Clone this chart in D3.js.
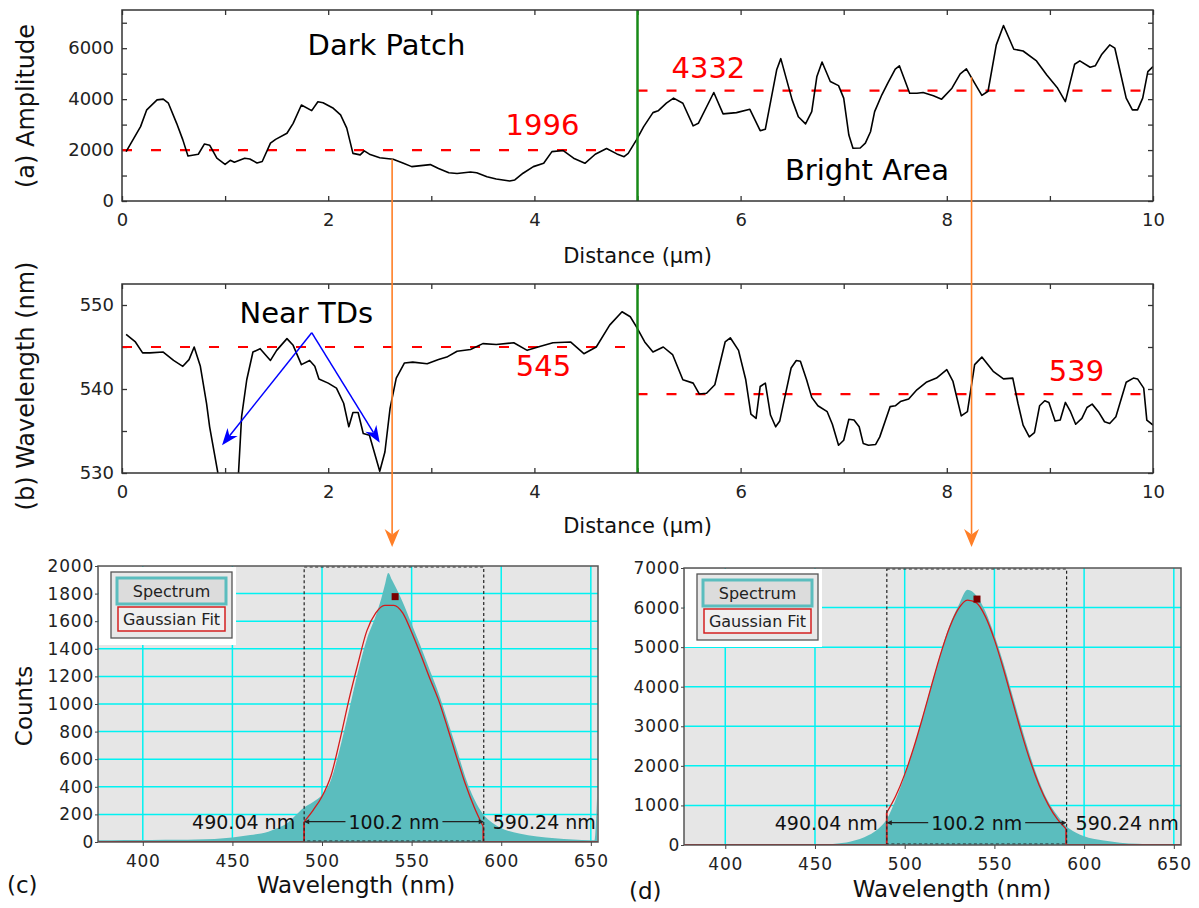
<!DOCTYPE html>
<html>
<head>
<meta charset="utf-8">
<script src="https://cdn.jsdelivr.net/npm/d3@7"></script>
<style>
  body { margin: 0; background: #fff; }
  svg { display: block; }
  text { font-family: "DejaVu Sans", sans-serif; }
</style>
</head>
<body>
<div id="chart"></div>
<script>
// ---- profile (a): amplitude along the line scan
const distA = [0.04,0.18,0.24,0.34,0.40,0.45,0.53,0.59,0.64,0.74,0.80,0.85,0.92,1.00,1.05,1.09,1.19,1.24,1.31,1.36,
  1.44,1.49,1.60,1.66,1.74,1.84,1.90,1.95,2.05,2.12,2.18,2.24,2.31,2.35,2.40,2.50,2.63,2.73,2.81,2.99,
  3.07,3.17,3.25,3.38,3.44,3.54,3.63,3.76,3.81,3.89,3.99,4.09,4.17,4.28,4.38,4.49,4.59,4.70,4.80,4.87,
  4.91,4.99,5.06,5.15,5.20,5.28,5.35,5.44,5.54,5.59,5.74,5.83,5.96,6.09,6.19,6.24,6.35,6.39,6.50,6.56,
  6.63,6.69,6.74,6.79,6.87,6.95,7.00,7.05,7.09,7.16,7.21,7.26,7.30,7.37,7.43,7.50,7.54,7.64,7.71,7.77,
  7.87,7.95,8.05,8.13,8.19,8.27,8.34,8.40,8.48,8.55,8.65,8.74,8.87,8.97,9.07,9.15,9.24,9.29,9.39,9.44,
  9.50,9.58,9.63,9.74,9.80,9.85,9.90,9.95,10.0];
const ampA = [1940,2920,3580,3970,4000,3840,3050,2400,1770,1835,2240,2190,1680,1440,1600,1520,1680,1650,1490,1550,
  2270,2420,2660,3050,3770,3550,3900,3860,3640,3380,2860,1870,1810,1970,1840,1700,1640,1480,1350,1430,
  1280,1110,1080,1140,1110,955,865,786,825,1090,1350,1480,1940,1980,1680,1480,1835,2060,1850,1740,
  1870,2400,2920,3470,3540,3840,4040,3840,2950,3050,4260,3420,3470,3600,2760,2820,5150,5590,3970,3310,
  3030,3510,4890,5460,4690,4530,4040,2590,2070,2080,2270,2720,3510,4170,4650,5180,5310,4230,4230,4260,
  4130,4000,4430,4990,5190,4630,4150,4310,6130,6890,5960,5890,5500,4950,4460,3900,5370,5500,5250,5310,
  5740,6130,6000,4040,3580,3580,4040,5080,5280];

// ---- profile (b): peak wavelength along the line scan
const distB = [0.04,0.13,0.20,0.27,0.40,0.50,0.59,0.65,0.70,0.76,0.82,0.85,0.93,1.00,1.06,1.13,1.16,1.21,1.27,1.34,
  1.44,1.50,1.60,1.66,1.74,1.82,1.87,1.91,2.00,2.08,2.15,2.20,2.24,2.29,2.34,2.40,2.50,2.55,2.60,2.66,
  2.74,2.82,2.96,3.07,3.15,3.25,3.38,3.50,3.63,3.80,3.93,4.06,4.18,4.35,4.48,4.60,4.73,4.85,4.93,4.99,
  5.07,5.15,5.25,5.34,5.44,5.54,5.60,5.67,5.75,5.85,5.90,5.98,6.05,6.10,6.15,6.19,6.24,6.29,6.34,6.38,
  6.43,6.49,6.54,6.58,6.64,6.69,6.75,6.84,6.89,6.95,7.00,7.05,7.10,7.15,7.19,7.24,7.31,7.35,7.45,7.50,
  7.55,7.63,7.71,7.80,7.90,8.00,8.06,8.14,8.20,8.27,8.34,8.45,8.55,8.64,8.69,8.74,8.80,8.85,8.90,8.95,
  8.99,9.05,9.10,9.15,9.20,9.25,9.31,9.36,9.41,9.47,9.53,9.58,9.64,9.74,9.81,9.85,9.91,9.94,10.0];
const wlB = [546.5,545.6,544.3,544.3,544.4,543.4,542.7,543.5,545.0,542.7,538.3,535.5,530.0,526.5,526.0,530.0,536.7,541.1,544.4,544.8,
  543.4,544.6,546.0,545.2,542.9,543.4,542.7,541.2,540.7,540.1,538.3,535.5,537.2,537.2,534.7,534.5,530.2,532.5,537.7,541.3,
  543.1,543.2,543.0,543.5,543.8,544.5,544.7,545.4,545.3,545.5,544.6,545.1,545.5,545.6,544.2,545.0,547.6,549.2,548.6,547.4,
  545.6,544.4,545.0,544.1,541.1,540.7,539.4,539.5,540.5,545.6,546.1,544.6,541.1,537.0,536.5,540.3,540.7,536.9,535.5,536.2,
  539.1,542.5,543.4,543.3,541.1,539.0,538.0,537.3,535.8,533.3,533.9,536.4,536.3,535.5,533.5,533.3,533.4,534.3,537.9,538.0,
  538.5,538.8,539.9,540.8,541.3,542.3,540.9,536.8,537.3,542.9,543.8,542.1,541.2,541.3,538.3,535.7,534.3,534.8,538.0,538.6,
  538.4,536.2,536.3,538.4,537.3,535.8,536.5,537.8,538.2,537.3,536.1,535.9,536.7,540.8,541.3,541.2,540.1,536.3,535.7];

// region means (left = dark patch, right = bright area)
const meanAmp = [1996, 4332];
const meanWl = [545, 539.4];
const meanWlLabels = ["545", "539"];
const regionX = [[0, 5], [5, 10]];
const boundaryX = 5;

// arrows: blue "Near TDs" arrows and the orange links to the spectra
const tdApex = [1.84, 546.7];
const tdTips = [[0.97, 533.3], [2.50, 533.6]];
const linkX = [2.62, 8.24];
const linkAmp = [1640, 4860];

// ---- spectrum (c): dark patch point
const specCx = [375,390,405,420,430,440,450,460,470,475,480,485,490,495,500,505,510,515,520,525,
  530,533,535,537,539,541,545,550,555,560,565,570,575,580,585,590,595,600,610,620,630,640,650,652,653.5];
const specCy = [12,14,15,16,18,22,32,50,75,100,130,190,250,290,340,450,680,950,1230,1470,
  1640,1760,1860,1950,1900,1850,1740,1580,1420,1250,1080,880,680,470,310,200,140,100,62,40,28,18,12,12,330];
const fitCx = [490,495,500,505,510,515,520,525,530,535,540,545,550,555,560,565,570,575,580,585,590];
const fitCy = [147,230,330,480,740,1030,1290,1530,1660,1715,1715,1660,1520,1360,1190,1030,830,620,420,250,111];
const peakC = [540.8, 1778];
const rangeC = [490.04, 590.24];
const rangeCy = 147;

// ---- spectrum (d): bright area point
const specDx = [455,460,465,470,475,480,485,490,495,500,505,510,515,520,525,530,535,540,545,550,
  555,560,565,570,575,580,585,590,595,600,610,620,630,640,650,654];
const specDy = [0,25,50,90,150,250,400,650,1150,1750,2450,3250,4050,4850,5550,6050,6450,6300,5900,5300,
  4600,3800,3000,2250,1600,1100,750,480,320,220,120,60,30,12,5,3];
const fitDx = [490,495,500,505,510,515,520,525,530,535,540,545,550,555,560,565,570,575,580,585,590];
const fitDy = [818,1236,1785,2457,3224,4038,4823,5494,5972,6190,6120,5772,5190,4455,3646,2847,2118,1505,1020,659,406];
const peakD = [540.3, 6215];
const rangeD = [490.04, 590.24];
const rangeDy = 564;

const W = 1199, H = 908;
const svg = d3.select("#chart").append("svg")
  .attr("width", W).attr("height", H)
  .attr("viewBox", `0 0 ${W} ${H}`);
svg.append("rect").attr("width", W).attr("height", H).attr("fill", "#fff");

const defs = svg.append("defs");
const FONT = '"DejaVu Sans", sans-serif';

// arrow with a notched filled head
const arrow = (g, x1, y1, x2, y2, color, sw, hl, hw) => {
  const a = Math.atan2(y2 - y1, x2 - x1);
  const cx = Math.cos(a), sy = Math.sin(a);
  const bx = x2 - hl * cx, by = y2 - hl * sy;
  const nx = x2 - hl * 0.7 * cx, ny = y2 - hl * 0.7 * sy;
  const px = -sy * hw / 2, py = cx * hw / 2;
  g.append("line")
    .attr("x1", x1).attr("y1", y1).attr("x2", nx).attr("y2", ny)
    .attr("stroke", color).attr("stroke-width", sw);
  g.append("path")
    .attr("d", `M${x2},${y2}L${bx + px},${by + py}L${nx},${ny}L${bx - px},${by - py}Z`)
    .attr("fill", color);
};

// ================= top profiles =================
const xProf = d3.scaleLinear().domain([0, 10]).range([122, 1153]);
const yAmp = d3.scaleLinear().domain([0, 7500]).range([201, 10]);
const yWl = d3.scaleLinear().domain([530, 552.5]).range([473, 284]);

const drawProfile = (cfg) => {
  const y = cfg.y;
  const [bottom, top] = y.range();
  const g = svg.append("g");

  defs.append("clipPath").attr("id", cfg.id)
    .append("rect").attr("x", xProf(0)).attr("y", top)
    .attr("width", xProf(10) - xProf(0)).attr("height", bottom - top);

  const styleAxis = (ax) => {
    ax.select(".domain").remove();
    ax.selectAll(".tick line").attr("stroke", "#333").attr("stroke-width", 1.3);
    ax.selectAll("text").attr("font-family", FONT).attr("font-size", 18).attr("fill", "#222");
  };

  const xt = d3.range(0, 11, 1);
  g.append("g").attr("transform", `translate(0,${bottom})`)
    .call(d3.axisBottom(xProf).tickValues(xt).tickSize(-5).tickPadding(12)
      .tickFormat(d => d % 2 === 0 ? d : ""))
    .call(styleAxis);
  g.append("g").attr("transform", `translate(0,${top})`)
    .call(d3.axisTop(xProf).tickValues(xt).tickSize(-5).tickFormat(""))
    .call(styleAxis);
  g.append("g").attr("transform", `translate(${xProf(0)},0)`)
    .call(d3.axisLeft(y).tickValues(cfg.yTicks).tickSize(-5).tickPadding(8)
      .tickFormat(d => d % cfg.labelStep === 0 ? d : ""))
    .call(styleAxis);
  g.append("g").attr("transform", `translate(${xProf(10)},0)`)
    .call(d3.axisRight(y).tickValues(cfg.yTicks).tickSize(-5).tickFormat(""))
    .call(styleAxis);

  // region means
  regionX.forEach((r, i) => {
    g.append("line")
      .attr("x1", xProf(r[0])).attr("x2", xProf(r[1]))
      .attr("y1", y(cfg.means[i])).attr("y2", y(cfg.means[i]))
      .attr("stroke", "#ff0000").attr("stroke-width", 2.2)
      .attr("stroke-dasharray", "10,19");
  });

  // profile
  const line = d3.line().x(d => xProf(d[0])).y(d => y(d[1]));
  g.append("path")
    .datum(d3.zip(cfg.xs, cfg.ys))
    .attr("clip-path", `url(#${cfg.id})`)
    .attr("d", line)
    .attr("fill", "none").attr("stroke", "#000").attr("stroke-width", 1.6)
    .attr("stroke-linejoin", "round");

  // boundary between regions
  g.append("line")
    .attr("x1", xProf(boundaryX)).attr("x2", xProf(boundaryX))
    .attr("y1", top).attr("y2", bottom)
    .attr("stroke", "#178a17").attr("stroke-width", 2.5);

  // frame
  g.append("rect")
    .attr("x", xProf(0)).attr("y", top)
    .attr("width", xProf(10) - xProf(0)).attr("height", bottom - top)
    .attr("fill", "none").attr("stroke", "#333").attr("stroke-width", 1.5);

  g.append("text")
    .attr("x", (xProf(0) + xProf(10)) / 2).attr("y", cfg.xTitleY)
    .attr("text-anchor", "middle").attr("font-size", 21).attr("fill", "#111")
    .text("Distance (µm)");
  g.append("text")
    .attr("transform", `translate(34,${cfg.titleY}) rotate(-90)`)
    .attr("text-anchor", "middle").attr("font-size", 24).attr("fill", "#111")
    .text(cfg.title);

  cfg.notes.forEach(n => {
    g.append("text")
      .attr("x", xProf(n[0])).attr("y", y(n[1]))
      .attr("font-size", 29).attr("fill", n[3])
      .text(n[2]);
  });
  return g;
};

drawProfile({
  id: "clipA", y: yAmp, yTicks: d3.range(0, 7001, 1000), labelStep: 2000,
  xs: distA, ys: ampA, means: meanAmp,
  title: "(a) Amplitude", titleY: 106, xTitleY: 263,
  notes: [[1.80, 5738, "Dark Patch", "#000"], [6.43, 825, "Bright Area", "#000"],
          [3.72, 2590, String(meanAmp[0]), "#ff0000"], [5.33, 4834, String(meanAmp[1]), "#ff0000"]]
});

const gB = drawProfile({
  id: "clipB", y: yWl, yTicks: [530, 535, 540, 545, 550], labelStep: 10,
  xs: distB, ys: wlB, means: meanWl,
  title: "(b) Wavelength (nm)", titleY: 386, xTitleY: 533,
  notes: [[1.14, 547.86, "Near TDs", "#000"],
          [3.82, 541.55, meanWlLabels[0], "#ff0000"], [8.99, 540.95, meanWlLabels[1], "#ff0000"]]
});

// blue arrows towards threading dislocations
tdTips.forEach(t => {
  arrow(gB, xProf(tdApex[0]), yWl(tdApex[1]), xProf(t[0]), yWl(t[1]), "#0000ff", 1.5, 17, 13);
});

// orange links from the profile to the spectra
const linkEnd = 547;
linkX.forEach((lx, i) => {
  arrow(svg, xProf(lx), yAmp(linkAmp[i]), xProf(lx), linkEnd, "#ff7f27", 1.6, 18, 15);
});

// ================= spectra =================
const drawSpectrum = (cfg) => {
  const x = d3.scaleLinear().domain(cfg.xDom).range(cfg.xr);
  const y = d3.scaleLinear().domain([0, cfg.yMax]).range(cfg.yr);
  const [x0, x1] = cfg.xr, [y0, y1] = cfg.yr;
  const g = svg.append("g");

  defs.append("clipPath").attr("id", cfg.id)
    .append("rect").attr("x", x0).attr("y", y1).attr("width", x1 - x0).attr("height", y0 - y1);

  g.append("rect").attr("x", x0).attr("y", y1).attr("width", x1 - x0).attr("height", y0 - y1)
    .attr("fill", "#e6e6e6");

  const xt = [400, 450, 500, 550, 600, 650];
  const yt = d3.range(0, cfg.yMax + 1, cfg.yStep);
  g.append("g").selectAll("line").data(xt).join("line")
    .attr("x1", d => x(d)).attr("x2", d => x(d)).attr("y1", y1).attr("y2", y0)
    .attr("stroke", "#00f2f2").attr("stroke-width", 1.5);
  g.append("g").selectAll("line").data(yt.slice(1, -1)).join("line")
    .attr("x1", x0).attr("x2", x1).attr("y1", d => y(d)).attr("y2", d => y(d))
    .attr("stroke", "#00f2f2").attr("stroke-width", 1.5);

  const body = g.append("g").attr("clip-path", `url(#${cfg.id})`);
  const area = d3.area().x(d => x(d[0])).y0(y(0)).y1(d => y(d[1])).curve(d3.curveMonotoneX);
  body.append("path").datum(d3.zip(cfg.sx, cfg.sy))
    .attr("d", area).attr("fill", "#5bbdbe");

  // fit: zero outside the fit range, gaussian inside
  const lin = d3.line().x(d => x(d[0])).y(d => y(d[1]));
  const fitPts = d3.zip(cfg.fx, cfg.fy);
  const red = "#d41a1a";
  body.append("path").datum([[cfg.xDom[0], 0], [cfg.fx[0], 0], fitPts[0]])
    .attr("d", lin).attr("fill", "none").attr("stroke", red).attr("stroke-width", 1.8);
  body.append("path").datum([fitPts[fitPts.length - 1], [cfg.fx[cfg.fx.length - 1], 0], [cfg.xDom[1], 0]])
    .attr("d", lin).attr("fill", "none").attr("stroke", red).attr("stroke-width", 1.8);
  body.append("path").datum(fitPts)
    .attr("d", lin.curve(d3.curveMonotoneX)).attr("fill", "none")
    .attr("stroke", red).attr("stroke-width", 1.3);

  // fit range box
  body.append("rect")
    .attr("x", x(cfg.range[0])).attr("y", y1 + 1)
    .attr("width", x(cfg.range[1]) - x(cfg.range[0])).attr("height", y0 - y1 - 2)
    .attr("fill", "none").attr("stroke", "#222").attr("stroke-width", 1.2)
    .attr("stroke-dasharray", "3,2.5");

  // range annotation
  const ay = y(cfg.rangeY);
  const xa = x(cfg.range[0]), xb = x(cfg.range[1]);
  const ann = g.append("g").attr("font-size", 19).attr("fill", "#111");
  ann.append("text").attr("x", xa - 9).attr("y", ay + 7).attr("text-anchor", "end")
    .text(cfg.range[0].toFixed(2) + " nm");
  ann.append("text").attr("x", xb + 9).attr("y", ay + 7).attr("text-anchor", "start")
    .text(cfg.range[1].toFixed(2) + " nm");
  const mid = ann.append("text").attr("x", (xa + xb) / 2).attr("y", ay + 7).attr("text-anchor", "middle")
    .text((cfg.range[1] - cfg.range[0]).toFixed(1) + " nm");
  const tw = mid.node().getComputedTextLength();
  [[xa + 1, (xa + xb) / 2 - tw / 2 - 3, xa], [(xa + xb) / 2 + tw / 2 + 3, xb - 1, xb]].forEach(s => {
    ann.append("line").attr("x1", s[0]).attr("x2", s[1]).attr("y1", ay).attr("y2", ay)
      .attr("stroke", "#222").attr("stroke-width", 1.2);
    const dir = s[2] === xa ? 1 : -1;
    ann.append("path")
      .attr("d", `M${s[2]},${ay}L${s[2] + dir * 5},${ay - 2.5}L${s[2] + dir * 5},${ay + 2.5}Z`)
      .attr("fill", "#222");
  });

  // peak marker
  g.append("rect")
    .attr("x", x(cfg.peak[0]) - 3.5).attr("y", y(cfg.peak[1]) - 3.5)
    .attr("width", 7).attr("height", 7).attr("fill", "#7a0000");

  // legend
  const lg = g.append("g").attr("transform", `translate(${x0},${y1})`);
  lg.append("rect").attr("x", 1).attr("y", 1).attr("width", 137).attr("height", 78).attr("fill", "#fff");
  lg.append("rect").attr("x", 13).attr("y", 6).attr("width", 121).attr("height", 66)
    .attr("fill", "#e8e8e8").attr("stroke", "#555").attr("stroke-width", 1.3);
  lg.append("rect").attr("x", 19).attr("y", 12).attr("width", 109).attr("height", 26)
    .attr("fill", "#dcdcdc").attr("stroke", "#5bbdbe").attr("stroke-width", 3);
  lg.append("rect").attr("x", 20).attr("y", 41).attr("width", 107).attr("height", 24)
    .attr("fill", "#f0f0f0").attr("stroke", "#d42020").attr("stroke-width", 1.5);
  lg.append("text").attr("x", 73.5).attr("y", 31).attr("text-anchor", "middle")
    .attr("font-size", 16).attr("fill", "#222").text("Spectrum");
  lg.append("text").attr("x", 73.5).attr("y", 59).attr("text-anchor", "middle")
    .attr("font-size", 16).attr("fill", "#222").text("Gaussian Fit");

  // frame and axes
  g.append("rect").attr("x", x0).attr("y", y1).attr("width", x1 - x0).attr("height", y0 - y1)
    .attr("fill", "none").attr("stroke", "#555").attr("stroke-width", 1.5);

  const styleAxis = (ax) => {
    ax.select(".domain").remove();
    ax.selectAll(".tick line").attr("stroke", "#444");
    ax.selectAll("text").attr("font-family", FONT).attr("font-size", 17)
      .attr("letter-spacing", "0.8px").attr("fill", "#222");
  };
  g.append("g").attr("transform", `translate(${x0},0)`)
    .call(d3.axisLeft(y).tickValues(yt).tickSize(3).tickPadding(1).tickFormat(d3.format("d")))
    .call(styleAxis);
  g.append("g").attr("transform", `translate(0,${y0})`)
    .call(d3.axisBottom(x).tickValues(xt).tickSize(4).tickPadding(9).tickFormat(d3.format("d")))
    .call(styleAxis);

  g.append("text").attr("x", cfg.titleX).attr("y", cfg.titleY).attr("text-anchor", "middle")
    .attr("font-size", 23).attr("fill", "#111").text("Wavelength (nm)");
  g.append("text").attr("x", cfg.tagX).attr("y", cfg.tagY)
    .attr("font-size", 23).attr("fill", "#111").text(cfg.tag);
  return g;
};

drawSpectrum({
  id: "clipC", xDom: [375, 654], xr: [98, 598], yMax: 2000, yStep: 200, yr: [842, 566],
  sx: specCx, sy: specCy, fx: fitCx, fy: fitCy, peak: peakC, range: rangeC, rangeY: rangeCy,
  titleX: 356, titleY: 893, tag: "(c)", tagX: 7, tagY: 893
});
drawSpectrum({
  id: "clipD", xDom: [377, 654], xr: [684, 1181], yMax: 7000, yStep: 1000, yr: [845, 568],
  sx: specDx, sy: specDy, fx: fitDx, fy: fitDy, peak: peakD, range: rangeD, rangeY: rangeDy,
  titleX: 952, titleY: 897, tag: "(d)", tagX: 629, tagY: 899
});

svg.append("text")
  .attr("transform", "translate(32,706) rotate(-90)")
  .attr("text-anchor", "middle").attr("font-size", 23).attr("fill", "#111")
  .text("Counts");
</script>
</body>
</html>
